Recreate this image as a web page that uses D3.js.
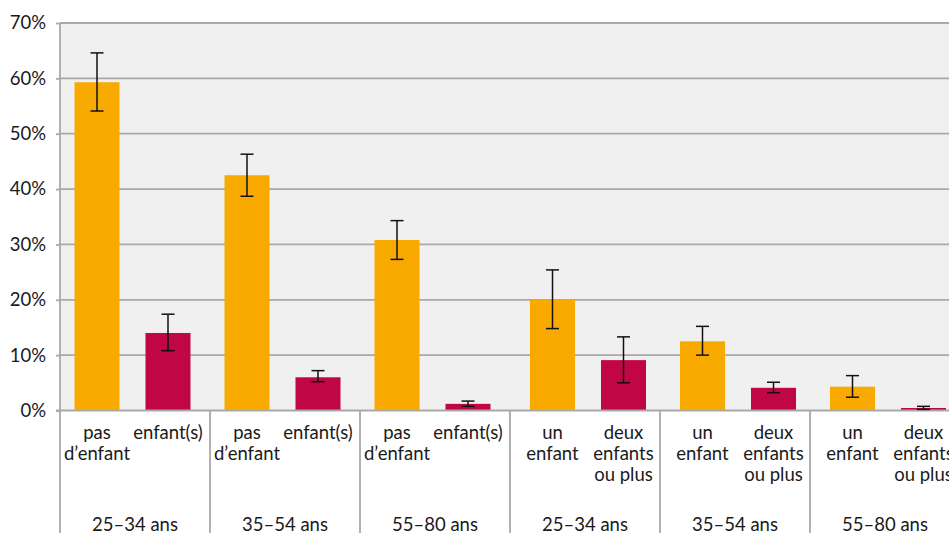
<!DOCTYPE html>
<html>
<head>
<meta charset="utf-8">
<script src="https://cdn.jsdelivr.net/npm/d3@7"></script>
<style>
  body { margin: 0; background: #fff; }
  svg text { font-family: Lato, "Open Sans", sans-serif; font-size: 18.5px; fill: #1a1a1a; }
</style>
</head>
<body>
<svg width="949" height="533"></svg>
<script>
// age groups (bottom row), two blocks: without / with children
var ageGroups = ["25–34 ans", "35–54 ans", "55–80 ans", "25–34 ans", "35–54 ans", "55–80 ans"];
var blocks = [0, 0, 0, 1, 1, 1];

// category labels, one per bar (lines)
var orangeLabels = [["pas", "d’enfant"], ["pas", "d’enfant"], ["pas", "d’enfant"], ["un", "enfant"], ["un", "enfant"], ["un", "enfant"]];
var crimsonLabels = [["enfant(s)"], ["enfant(s)"], ["enfant(s)"], ["deux", "enfants", "ou plus"], ["deux", "enfants", "ou plus"], ["deux", "enfants", "ou plus"]];

// values in %
var orangeValues = [59.3, 42.5, 30.8, 20.0, 12.5, 4.3];
var orangeLow    = [54.1, 38.7, 27.3, 14.8, 10.0, 2.4];
var orangeHigh   = [64.6, 46.3, 34.3, 25.4, 15.2, 6.3];

var crimsonValues = [14.0, 6.0, 1.2, 9.1, 4.1, 0.45];
var crimsonLow    = [10.8, 5.2, 0.75, 5.0, 3.2, 0.2];
var crimsonHigh   = [17.4, 7.2, 1.7, 13.3, 5.1, 0.75];

var yTicks = [0, 10, 20, 30, 40, 50, 60, 70];

var svg = d3.select("svg");
var W = 949, H = 533;
var plotLeft = 60, plotTop = 23, plotBottom = 410.5;

var y = d3.scaleLinear().domain([0, 70]).range([plotBottom, plotTop]);
var x0 = d3.scaleBand().domain(d3.range(ageGroups.length)).range([plotLeft, 960]);
var x1 = d3.scaleBand().domain(["o", "c"]).range([17, 133]).paddingInner(0.366);
// the right block sits slightly further right in its cells
var blockShift = [-2.5, 3];

function bx(i, s) { return x0(i) + x1(s) + blockShift[blocks[i]]; }

// plot background
svg.append("rect")
  .attr("x", plotLeft).attr("y", plotTop)
  .attr("width", W - plotLeft).attr("height", plotBottom - plotTop)
  .attr("fill", "#f0f0f0");

// gridlines
svg.append("g").selectAll("line")
  .data(yTicks.slice(1))
  .enter().append("line")
  .attr("x1", plotLeft).attr("x2", W)
  .attr("y1", function(d) { return y(d); })
  .attr("y2", function(d) { return y(d); })
  .attr("stroke", "#a9a9a9")
  .attr("stroke-width", 1.8);

// y axis
var gy = svg.append("g")
  .attr("transform", "translate(" + plotLeft + ",0)")
  .call(d3.axisLeft(y)
    .tickValues(yTicks)
    .tickSize(4)
    .tickSizeOuter(0)
    .tickPadding(10)
    .tickFormat(function(d) { return d + "%"; }));
gy.select(".domain").remove();
gy.selectAll(".tick line").attr("stroke", "#a9a9a9").attr("stroke-width", 1.8);
gy.selectAll(".tick text")
  .style("font-family", "Lato, 'Open Sans', sans-serif")
  .style("font-size", "18.5px")
  .attr("fill", "#1a1a1a");

// bars
var bars = svg.append("g");
var series = [
  { key: "o", values: orangeValues, low: orangeLow, high: orangeHigh, color: "#f8aa00" },
  { key: "c", values: crimsonValues, low: crimsonLow, high: crimsonHigh, color: "#c10646" }
];

series.forEach(function(s) {
  bars.selectAll("rect.b" + s.key)
    .data(s.values)
    .enter().append("rect")
    .attr("class", "b" + s.key)
    .attr("x", function(d, i) { return bx(i, s.key); })
    .attr("y", function(d) { return y(d); })
    .attr("width", x1.bandwidth())
    .attr("height", function(d) { return y(0) - y(d); })
    .attr("fill", s.color);
});

// zero line and vertical separators
svg.append("line")
  .attr("x1", plotLeft - 4).attr("x2", W)
  .attr("y1", y(0)).attr("y2", y(0))
  .attr("stroke", "#a9a9a9").attr("stroke-width", 1.8);

svg.append("g").selectAll("line")
  .data(d3.range(ageGroups.length))
  .enter().append("line")
  .attr("x1", function(i) { return x0(i); })
  .attr("x2", function(i) { return x0(i); })
  .attr("y1", function(i) { return i === 0 ? plotTop : y(0); })
  .attr("y2", H)
  .attr("stroke", "#a9a9a9").attr("stroke-width", 1.8);

// error bars
var err = svg.append("g").attr("stroke", "#111").attr("stroke-width", 1.5);
series.forEach(function(s) {
  s.values.forEach(function(v, i) {
    var cx = bx(i, s.key) + x1.bandwidth() / 2;
    var yl = y(s.low[i]), yh = y(s.high[i]);
    err.append("line").attr("x1", cx).attr("x2", cx).attr("y1", yh).attr("y2", yl);
    err.append("line").attr("x1", cx - 6.5).attr("x2", cx + 6.5).attr("y1", yh).attr("y2", yh);
    err.append("line").attr("x1", cx - 6.5).attr("x2", cx + 6.5).attr("y1", yl).attr("y2", yl);
  });
});

// category labels
var labels = svg.append("g").attr("text-anchor", "middle");
[["o", orangeLabels], ["c", crimsonLabels]].forEach(function(p) {
  p[1].forEach(function(lines, i) {
    var cx = bx(i, p[0]) + x1.bandwidth() / 2;
    var t = labels.append("text").attr("x", cx).attr("y", 439);
    lines.forEach(function(l, k) {
      t.append("tspan").attr("x", cx).attr("y", 439 + k * 21).text(l);
    });
  });
});

// age group labels
svg.append("g").attr("text-anchor", "middle")
  .selectAll("text")
  .data(ageGroups)
  .enter().append("text")
  .attr("x", function(d, i) { return x0(i) + x0.bandwidth() / 2; })
  .attr("y", 531)
  .text(function(d) { return d; });
</script>
</body>
</html>
